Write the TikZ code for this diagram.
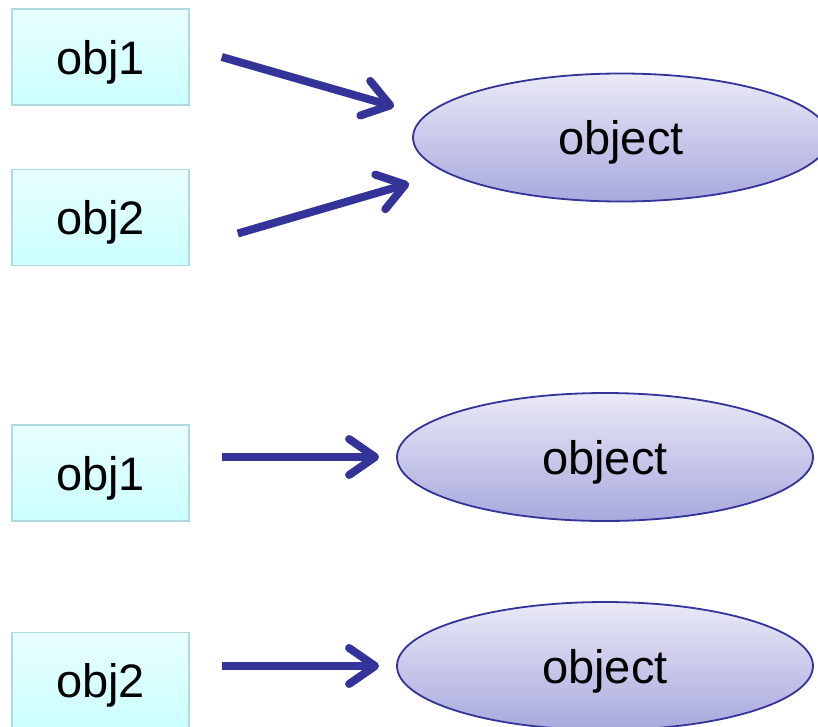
\documentclass[tikz,border=0pt]{standalone}
\usepackage{fontspec}
\setmainfont{Liberation Sans}
\usetikzlibrary{shapes.geometric,arrows.meta,positioning,calc}
\definecolor{objblue}{RGB}{51,51,153}
\definecolor{boxtop}{RGB}{232,255,255}
\definecolor{boxbot}{RGB}{204,255,255}
\definecolor{boxline}{RGB}{176,218,222}
\definecolor{elltop}{RGB}{234,234,247}
\definecolor{ellbot}{RGB}{168,168,222}

\begin{document}
\begin{tikzpicture}[
  x=1pt,y=1pt,
  box/.style={draw=boxline,line width=1.5pt,top color=boxtop,bottom color=boxbot,
              minimum width=177pt,minimum height=96pt,inner sep=0pt,
              text height=44pt,text depth=10pt,font=\fontsize{47}{56}\selectfont},
  ell/.style={ellipse,draw=objblue,line width=1.8pt,top color=elltop,bottom color=ellbot,
              minimum width=416pt,minimum height=128pt,inner sep=0pt,
              text height=44pt,text depth=10pt,font=\fontsize{47}{56}\selectfont},
  arr/.style={-{Straight Barb[length=26pt,width=36pt,round]},line width=8pt,color=objblue}]

  \useasboundingbox (0,0) rectangle (818,-726);

  % many references to one object
  \node[box] (obj1) at (100.5,-57) {obj1};
  \node[box,below=63pt of obj1] (obj2) {obj2};
  \node[ell] (shared) at (621,-137.5) {object};

  \draw[arr] ($(obj1.east)+(32,0)$) -- ($(shared.west)+(-18,31)$);
  \draw[arr] ($(obj2.east)+(48,-16)$) -- ($(shared.west)+(-3,-46)$);

  % one object per reference
  \node[box,below=158pt of obj2] (obj3) {obj1};
  \node[box,below=110pt of obj3] (obj4) {obj2};
  \node[ell] (own1) at (605,-457) {object};
  \node[ell] (own2) at (605,-666) {object};

  \draw[arr,shorten <=32pt,shorten >=17pt] (obj3.east |- own1) -- (own1.west);
  \draw[arr,shorten <=32pt,shorten >=17pt] (obj4.east |- own2) -- (own2.west);
\end{tikzpicture}
\end{document}
